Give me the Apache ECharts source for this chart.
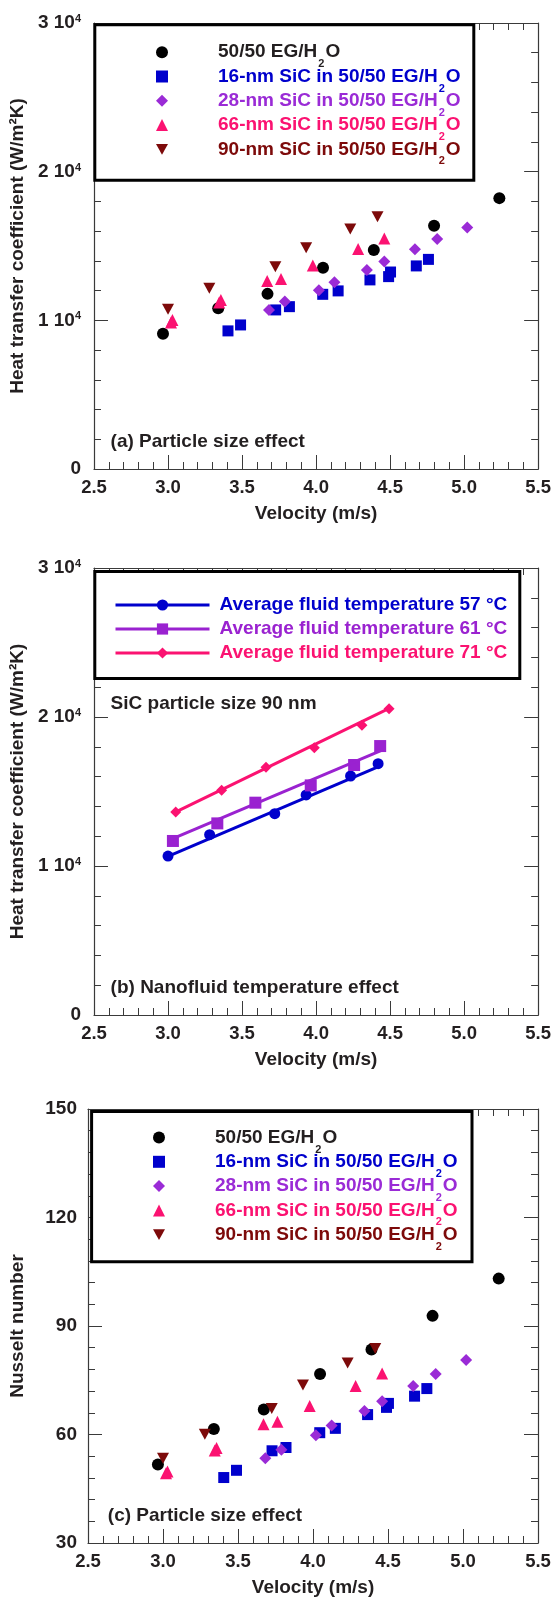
<!DOCTYPE html>
<html>
<head>
<meta charset="utf-8">
<title>SiC nanofluid heat transfer</title>
<script src="https://cdn.jsdelivr.net/npm/echarts@6/dist/echarts.min.js"></script>
<style>
  html, body { margin: 0; padding: 0; background: #fff; }
  #chart { width: 554px; height: 1613px; }
</style>
</head>
<body>
<div id="chart"></div>
<script>
// ticks
const velocityTicks = [2.5, 3.0, 3.5, 4.0, 4.5, 5.0, 5.5];
const velocityTickLabels = ['2.5', '3.0', '3.5', '4.0', '4.5', '5.0', '5.5'];
const htcTicks = [0, 10000, 20000, 30000];
const htcTickLabels = ['0', '1 10^4', '2 10^4', '3 10^4'];
const nuTicks = [30, 60, 90, 120, 150];
const nuTickLabels = ['30', '60', '90', '120', '150'];

// fluids of panels (a) and (c)
const fluidNames = [
  '50/50 EG/H2O',
  '16-nm SiC in 50/50 EG/H2O',
  '28-nm SiC in 50/50 EG/H2O',
  '66-nm SiC in 50/50 EG/H2O',
  '90-nm SiC in 50/50 EG/H2O'
];
const fluidColors = ['#000000', '#0000cc', '#9a2bd6', '#fb1271', '#7d0a0a'];

const baseVel = [2.966, 3.339, 3.672, 4.047, 4.39, 4.797, 5.238];
const baseHtc = [9090, 10810, 11780, 13540, 14730, 16360, 18220];
const baseNu = [51.7, 61.5, 66.9, 76.7, 83.5, 92.8, 103.1];

const sic16Vel = [3.405, 3.49, 3.727, 3.82, 4.045, 4.149, 4.364, 4.49, 4.503, 4.677, 4.759];
const sic16Htc = [9290, 9690, 10700, 10920, 11750, 11980, 12720, 12940, 13250, 13660, 14100];
const sic16Nu = [48.1, 50.1, 55.5, 56.4, 60.5, 61.7, 65.5, 67.5, 68.6, 70.6, 72.7];

const sic28Vel = [3.682, 3.789, 4.019, 4.124, 4.343, 4.461, 4.668, 4.818, 5.021];
const sic28Htc = [10700, 11260, 12020, 12560, 13390, 13950, 14780, 15470, 16250];
const sic28Nu = [53.4, 55.8, 59.8, 62.5, 66.5, 69.2, 73.4, 76.7, 80.6];

const sic66Vel = [3.02, 3.03, 3.345, 3.357, 3.67, 3.763, 3.978, 4.284, 4.461];
const sic66Htc = [9850, 10030, 11200, 11370, 12650, 12780, 13680, 14800, 15510];
const sic66Nu = [49.3, 49.8, 55.6, 56.3, 62.8, 63.5, 67.9, 73.4, 76.9];

const sic90Vel = [3.0, 3.279, 3.725, 3.933, 4.231, 4.415];
const sic90Htc = [10750, 12160, 13610, 14890, 16140, 16970];
const sic90Nu = [53.4, 60.1, 67.2, 73.7, 79.8, 83.8];

// panel (b), 90 nm SiC at three fluid temperatures
const tempNames = [
  'Average fluid temperature 57 °C',
  'Average fluid temperature 61 °C',
  'Average fluid temperature 71 °C'
];
const tempColors = ['#0000cc', '#9a22d0', '#fb1271'];

const t57Vel = [3.0, 3.281, 3.721, 3.933, 4.233, 4.419];
const t57Htc = [10670, 12100, 13510, 14770, 16040, 16870];
const t57Fit = [[2.98, 10560], [4.43, 16700]];

const t61Vel = [3.033, 3.333, 3.59, 3.964, 4.257, 4.433];
const t61Htc = [11680, 12860, 14250, 15410, 16780, 18050];
const t61Fit = [[3.0, 11700], [4.45, 17800]];

const t71Vel = [3.052, 3.362, 3.662, 3.988, 4.31, 4.493];
const t71Htc = [13620, 15080, 16620, 17940, 19440, 20560];
const t71Fit = [[3.05, 13620], [4.49, 20560]];

const FONT = "'Liberation Sans', Arial, Helvetica, sans-serif";
const INK = '#231f20';
const FRAME = '#3a3a3a';
const DOWN_TRI = 'path://M0,0L10,0L5,9Z';

const chart = echarts.init(document.getElementById('chart'));

function velocityLabel(v) {
  const i = velocityTicks.findIndex(t => Math.abs(t - v) < 1e-6);
  return i < 0 ? '' : velocityTickLabels[i];
}

function tickLabel(ticks, labels) {
  return function (v) {
    const i = ticks.findIndex(t => Math.abs(t - v) < 1e-6);
    if (i < 0) return '';
    const s = labels[i];
    if (s.indexOf('^') < 0) return '{m|' + s + '}';
    const parts = s.split('^');
    return '{m|' + parts[0] + '}{e|' + parts[1] + '}';
  };
}

function fluidLabel(name) {
  const i = name.indexOf('H2O');
  if (i < 0) return '{t|' + name + '}';
  return '{t|' + name.slice(0, i + 1) + '}{s|2}{t|O}';
}

const tickRich = {
  m: { fontSize: 19, fontWeight: 'bold', fontFamily: FONT, color: INK },
  e: { fontSize: 11, fontWeight: 'bold', fontFamily: FONT, color: INK, verticalAlign: 'top' }
};

const legendRich = {
  t: { fontSize: 19, fontWeight: 'bold', fontFamily: FONT, lineHeight: 22 },
  s: { fontSize: 11, fontWeight: 'bold', fontFamily: FONT, lineHeight: 12, padding: [24, 1, 0, 1] }
};

function frameAxis(extra) {
  return Object.assign({
    type: 'value',
    splitLine: { show: false },
    axisLine: { show: true, onZero: false, lineStyle: { color: FRAME, width: 1.2 } },
    axisTick: { show: true, inside: true, length: 14, lineStyle: { color: FRAME } },
    minorTick: { show: true, splitNumber: 5, length: 7, lineStyle: { color: FRAME } }
  }, extra);
}

function xAxes(gridIndex) {
  return [
    frameAxis({
      gridIndex, position: 'bottom', min: 2.5, max: 5.5, interval: 0.5,
      name: 'Velocity (m/s)', nameLocation: 'middle', nameGap: 35,
      nameTextStyle: { fontSize: 19, fontWeight: 'bold', fontFamily: FONT, color: INK },
      axisLabel: { margin: 9, fontSize: 18.5, fontWeight: 'bold', fontFamily: FONT, color: INK, formatter: velocityLabel }
    }),
    frameAxis({ gridIndex, position: 'top', min: 2.5, max: 5.5, interval: 0.5, axisLabel: { show: false } })
  ];
}

function yAxes(gridIndex, min, max, interval, ticks, labels, name, margin) {
  return [
    frameAxis({
      gridIndex, position: 'left', min, max, interval,
      name, nameLocation: 'middle', nameRotate: 90, nameGap: 61,
      nameTextStyle: { fontSize: 19, fontWeight: 'bold', fontFamily: FONT, color: INK },
      axisLabel: { margin, formatter: tickLabel(ticks, labels), rich: tickRich }
    }),
    frameAxis({ gridIndex, position: 'right', min, max, interval, axisLabel: { show: false } })
  ];
}

function scatter(name, axis, vel, vals, symbol, size, color) {
  return {
    type: 'scatter', name, xAxisIndex: axis, yAxisIndex: axis,
    data: vel.map((v, i) => [v, vals[i]]),
    symbol, symbolSize: size, itemStyle: { color, opacity: 1 }, silent: true
  };
}

function fitLine(name, fit, symbol, color) {
  return {
    type: 'line', name, xAxisIndex: 2, yAxisIndex: 2, data: fit,
    symbol, symbolSize: 10, showSymbol: false, silent: true,
    lineStyle: { color, width: 3 }, itemStyle: { color }
  };
}

const fluidSymbols = ['circle', 'rect', 'diamond', 'triangle', DOWN_TRI];
const fluidSizes = [12, 11, 12, 12, [12, 11]];

function fluidSeries(axis, sets) {
  return sets.map((s, i) => scatter(fluidNames[i], axis, s[0], s[1], fluidSymbols[i], fluidSizes[i], fluidColors[i]));
}

function fluidLegend(left, top) {
  return {
    orient: 'vertical', left, top, padding: 0, itemGap: -10.7,
    itemWidth: 12, itemHeight: 12, selectedMode: false, z: 100,
    data: fluidNames.map((n, i) => ({ name: n, textStyle: { color: i === 0 ? INK : fluidColors[i] } })),
    formatter: fluidLabel, textStyle: { rich: legendRich, padding: [0, 0, 0, 45] }
  };
}

function boxRect(x, y, w, h) {
  return { type: 'rect', z: 50, silent: true, shape: { x, y, width: w, height: h },
    style: { fill: '#fff', stroke: '#000', lineWidth: 3 } };
}

function note(text, x, y) {
  return { type: 'text', z: 60, silent: true,
    style: { text, x, y, font: 'bold 19px ' + FONT, fill: INK, verticalAlign: 'middle' } };
}

const option = {
  animation: false,
  backgroundColor: '#fff',
  grid: [
    { left: 92, top: 23, width: 447, height: 446 },
    { left: 92, top: 568, width: 447, height: 447 },
    { left: 88, top: 1109, width: 450, height: 434 }
  ],
  xAxis: [].concat(xAxes(0), xAxes(1), xAxes(2)),
  yAxis: [].concat(
    yAxes(0, 0, 30000, 10000, htcTicks, htcTickLabels, 'Heat transfer coefficient (W/m²K)', 13),
    yAxes(1, 0, 30000, 10000, htcTicks, htcTickLabels, 'Heat transfer coefficient (W/m²K)', 13),
    yAxes(2, 30, 150, 30, nuTicks, nuTickLabels, 'Nusselt number', 11)
  ),
  legend: [
    fluidLegend(156, 34.7),
    {
      orient: 'vertical', left: 114, top: 594, padding: 0, itemGap: 2,
      itemWidth: 94, itemHeight: 14, selectedMode: false, z: 100,
      lineStyle: { width: 3 },
      data: tempNames.map((n, i) => ({ name: n, textStyle: { color: tempColors[i] } })),
      textStyle: { fontSize: 19, fontWeight: 'bold', fontFamily: FONT, lineHeight: 22, padding: [0, 0, 0, 5] }
    },
    fluidLegend(153, 1120)
  ],
  graphic: [
    boxRect(94.8, 24.8, 379, 155.4),
    boxRect(94.8, 571.5, 425, 107),
    boxRect(91.6, 1111.5, 380.4, 150.3),
    note('(a) Particle size effect', 110.6, 441.7),
    note('SiC particle size 90 nm', 110.6, 703.3),
    note('(b) Nanofluid temperature effect', 110.6, 987.7),
    note('(c) Particle size effect', 107.8, 1515.7)
  ],
  series: [].concat(
    fluidSeries(0, [[baseVel, baseHtc], [sic16Vel, sic16Htc], [sic28Vel, sic28Htc], [sic66Vel, sic66Htc], [sic90Vel, sic90Htc]]),
    [
      fitLine(tempNames[0], t57Fit, 'circle', tempColors[0]),
      fitLine(tempNames[1], t61Fit, 'rect', tempColors[1]),
      fitLine(tempNames[2], t71Fit, 'diamond', tempColors[2]),
      scatter('57 points', 2, t57Vel, t57Htc, 'circle', 11, tempColors[0]),
      scatter('61 points', 2, t61Vel, t61Htc, 'rect', 12, tempColors[1]),
      scatter('71 points', 2, t71Vel, t71Htc, 'diamond', 11, tempColors[2])
    ],
    fluidSeries(4, [[baseVel, baseNu], [sic16Vel, sic16Nu], [sic28Vel, sic28Nu], [sic66Vel, sic66Nu], [sic90Vel, sic90Nu]])
  )
};

chart.setOption(option);
</script>
</body>
</html>
